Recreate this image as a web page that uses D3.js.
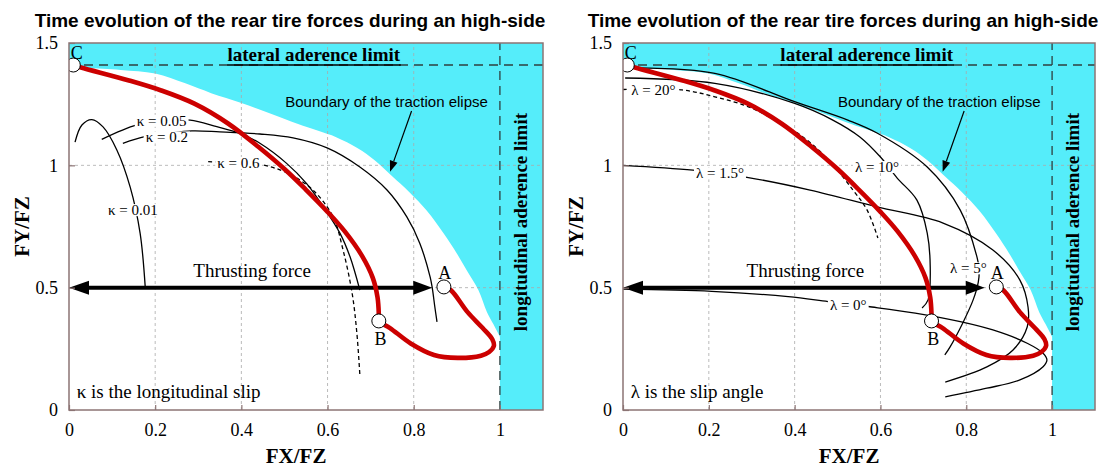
<!DOCTYPE html>
<html><head><meta charset="utf-8">
<script src="https://cdn.jsdelivr.net/npm/d3@7"></script>
<style>body{margin:0;background:#fff} svg{display:block}</style>
</head><body>
<svg id="chart" width="1101" height="468"></svg>
<script>
// ---- data (FX/FZ, FY/FZ) ----
const xTicks = [0, 0.2, 0.4, 0.6, 0.8, 1];
const yTicks = [0, 0.5, 1, 1.5];
const titleText = "Time evolution of the rear tire forces during an high-side";
const lateralLimit = 1.41;
const longitudinalLimit = 1.0;
const thrustLevel = 0.5;
const thrustEnd = 0.843;

// edge of the traction ellipse (cyan region lies outside it)
const tractionBoundary = [[0.0,1.412],[0.04,1.40],[0.12,1.39],[0.20,1.375],[0.27,1.335],[0.33,1.295],[0.40,1.255],[0.47,1.21],[0.53,1.17],[0.58,1.14],[0.62,1.115],[0.67,1.07],[0.71,1.02],[0.75,0.955],[0.79,0.89],[0.83,0.815],[0.87,0.72],[0.90,0.64],[0.925,0.565],[0.95,0.49],[0.97,0.40],[0.985,0.35],[1.0,0.30]];

// rear tire force trajectory A -> B -> C
const trajectory = [[0.870,0.503],[0.886,0.49],[0.925,0.40],[0.960,0.335],[0.982,0.29],[0.986,0.262],[0.975,0.237],[0.956,0.222],[0.902,0.213],[0.847,0.225],[0.793,0.272],[0.745,0.335],[0.719,0.364],[0.719,0.39],[0.716,0.46],[0.705,0.54],[0.68,0.63],[0.64,0.73],[0.60,0.81],[0.55,0.90],[0.50,0.985],[0.44,1.075],[0.37,1.17],[0.291,1.252],[0.214,1.306],[0.137,1.348],[0.028,1.40],[0.01,1.41]];
const pointA = [0.870, 0.503];
const pointB = [0.719, 0.364];
const pointC = [0.010, 1.410];

// constant longitudinal slip curves
const kappa001 = [[0.014,1.095],[0.03,1.165],[0.053,1.187],[0.079,1.157],[0.111,1.063],[0.142,0.911],[0.165,0.723],[0.177,0.5]];
const kappa005 = [[0.076,1.106],[0.157,1.165],[0.215,1.182],[0.281,1.185],[0.343,1.158],[0.397,1.131],[0.443,1.09],[0.505,1.008],[0.551,0.926],[0.59,0.831],[0.629,0.722],[0.652,0.627],[0.675,0.49]];
const kappa02 = [[0.125,1.09],[0.176,1.117],[0.227,1.13],[0.285,1.141],[0.35,1.137],[0.443,1.128],[0.52,1.112],[0.599,1.071],[0.675,0.993],[0.738,0.899],[0.784,0.789],[0.814,0.682],[0.838,0.544],[0.843,0.499],[0.849,0.421],[0.854,0.36]];
const kappa06 = [[0.323,1.015],[0.393,1.01],[0.451,1.001],[0.506,0.969],[0.566,0.899],[0.613,0.789],[0.636,0.654],[0.657,0.478],[0.668,0.315],[0.675,0.143]];

// constant slip angle curves
const lambda0 = [[0,0.494],[0.207,0.485],[0.385,0.463],[0.478,0.443],[0.58,0.421],[0.681,0.396],[0.786,0.361],[0.862,0.327],[0.942,0.273],[0.979,0.232],[0.988,0.204],[0.979,0.177],[0.925,0.123],[0.848,0.089],[0.751,0.054]];
const lambda15 = [[0,1.0],[0.163,0.98],[0.289,0.951],[0.436,0.899],[0.592,0.83],[0.746,0.764],[0.862,0.654],[0.925,0.531],[0.944,0.42],[0.942,0.339],[0.909,0.245],[0.848,0.176],[0.751,0.114]];
const lambda5 = [[0.028,1.398],[0.214,1.376],[0.40,1.26],[0.524,1.185],[0.592,1.132],[0.709,0.993],[0.786,0.817],[0.825,0.625],[0.83,0.575],[0.828,0.523],[0.816,0.45],[0.793,0.36],[0.762,0.257],[0.75,0.225]];
const lambda10 = [[0.005,1.357],[0.214,1.335],[0.40,1.253],[0.489,1.185],[0.552,1.116],[0.60,1.034],[0.639,0.948],[0.685,0.858],[0.709,0.723],[0.716,0.584],[0.711,0.45],[0.697,0.417]];
const lambda20 = [[0,1.31],[0.138,1.308],[0.214,1.28],[0.291,1.24],[0.354,1.185],[0.42,1.115],[0.48,1.02],[0.536,0.899],[0.569,0.817],[0.594,0.703]];

// ---- layout ----
const W = 1101, H = 468, TOP = 43, BOTTOM = 410;
const CYAN = "#55edfa", RED = "#cc0000", FRAME = "#8c7474";
const SERIF = "'Liberation Serif','Times New Roman',serif";
const SANS = "'Liberation Sans',Arial,sans-serif";

const panels = [
  { left: 69, right: 543, note: "\u03BA is the longitudinal slip",
    curves: [
      { data: kappa001, label: "\u03BA = 0.01", at: [0.148, 0.817] },
      { data: kappa005, label: "\u03BA = 0.05", at: [0.215, 1.182] },
      { data: kappa02,  label: "\u03BA = 0.2",  at: [0.227, 1.114] },
      { data: kappa06,  label: "\u03BA = 0.6",  at: [0.393, 1.010], dashed: true }
    ] },
  { left: 623, right: 1095, note: "\u03BB is the slip angle",
    curves: [
      { data: lambda0,  label: "\u03BB = 0\u00B0",   at: [0.525, 0.429] },
      { data: lambda15, label: "\u03BB = 1.5\u00B0", at: [0.226, 0.967] },
      { data: lambda5,  label: "\u03BB = 5\u00B0",   at: [0.805, 0.579] },
      { data: lambda10, label: "\u03BB = 10\u00B0",  at: [0.592, 0.993] },
      { data: lambda20, label: "\u03BB = 20\u00B0",  at: [0.071, 1.308], dashed: true }
    ] }
];

const svg = d3.select("#chart");
svg.append("rect").attr("width", W).attr("height", H).attr("fill", "#fff");

panels.forEach((p, i) => {
  const x = d3.scaleLinear().domain([0, 1.1]).range([p.left, p.right]);
  const y = d3.scaleLinear().domain([0, 1.5]).range([BOTTOM, TOP]);
  const g = svg.append("g");
  const clipId = "clip" + i;
  g.append("clipPath").attr("id", clipId).append("rect")
    .attr("x", p.left).attr("y", TOP).attr("width", p.right - p.left).attr("height", BOTTOM - TOP);
  const plot = g.append("g").attr("clip-path", `url(#${clipId})`);

  const smooth = d3.line().x(d => x(d[0])).y(d => y(d[1])).curve(d3.curveCatmullRom.alpha(0.5));

  // cyan region outside the traction ellipse and beyond the longitudinal limit
  const bPath = smooth(tractionBoundary);
  plot.append("path")
    .attr("d", `M${x(0)},${y(1.5)}L${x(0)},${y(tractionBoundary[0][1])}` + bPath.replace(/^M/, "L") +
      `L${x(longitudinalLimit)},${y(0)}L${x(1.1)},${y(0)}L${x(1.1)},${y(1.5)}Z`)
    .attr("fill", CYAN);

  // grid
  plot.selectAll(".gx").data(xTicks.filter(d => d > 0 && d < 1)).join("line")
    .attr("x1", d => x(d)).attr("x2", d => x(d)).attr("y1", y(0)).attr("y2", y(1.5))
    .attr("stroke", "#aaa").attr("stroke-width", 0.8).attr("stroke-dasharray", "3,3");
  plot.selectAll(".gy").data(yTicks.filter(d => d > 0 && d < 1.5)).join("line")
    .attr("x1", x(0)).attr("x2", x(1.1)).attr("y1", d => y(d)).attr("y2", d => y(d))
    .attr("stroke", "#aaa").attr("stroke-width", 0.8).attr("stroke-dasharray", "3,3");

  // adherence limits
  plot.append("line").attr("x1", x(0)).attr("x2", x(1.1)).attr("y1", y(lateralLimit)).attr("y2", y(lateralLimit))
    .attr("stroke", "#2f3f3f").attr("stroke-width", 1.3).attr("stroke-dasharray", "9,6");
  plot.append("line").attr("x1", x(longitudinalLimit)).attr("x2", x(longitudinalLimit)).attr("y1", y(0)).attr("y2", y(1.5))
    .attr("stroke", "#2f3f3f").attr("stroke-width", 1.3).attr("stroke-dasharray", "9,6");

  // slip curves
  p.curves.forEach(c => {
    plot.append("path").attr("d", smooth(c.data)).attr("fill", "none")
      .attr("stroke", "#000").attr("stroke-width", 1.3)
      .attr("stroke-dasharray", c.dashed ? "4,3" : null);
  });
  p.curves.forEach(c => {
    const t = plot.append("text").attr("x", x(c.at[0])).attr("y", y(c.at[1]))
      .attr("text-anchor", "middle").attr("dominant-baseline", "central")
      .attr("font-family", SERIF).attr("font-size", 15).text(c.label);
    const bb = t.node().getBBox();
    plot.insert("rect", () => t.node())
      .attr("x", bb.x - 2).attr("y", bb.y + 2).attr("width", bb.width + 4).attr("height", bb.height - 4)
      .attr("fill", "#fff");
  });

  // thrusting force arrow
  const ay = y(thrustLevel), ax0 = x(0), ax1 = x(thrustEnd);
  plot.append("line").attr("x1", ax0 + 12).attr("x2", ax1 - 12).attr("y1", ay).attr("y2", ay)
    .attr("stroke", "#000").attr("stroke-width", 4);
  plot.append("path").attr("d", `M${ax0},${ay}L${ax0 + 20},${ay - 7}L${ax0 + 20},${ay + 7}Z`).attr("fill", "#000");
  plot.append("path").attr("d", `M${ax1},${ay}L${ax1 - 19},${ay - 7}L${ax1 - 19},${ay + 7}Z`).attr("fill", "#000");
  plot.append("text").attr("x", x(0.425)).attr("y", y(0.543)).attr("text-anchor", "middle")
    .attr("font-family", SERIF).attr("font-size", 19).text("Thrusting force");

  // trajectory
  plot.append("path").attr("d", smooth(trajectory)).attr("fill", "none")
    .attr("stroke", RED).attr("stroke-width", 4.6).attr("stroke-linejoin", "round");
  plot.selectAll(".pt").data([pointA, pointB, pointC]).join("circle")
    .attr("cx", d => x(d[0])).attr("cy", d => y(d[1])).attr("r", 7)
    .attr("fill", "#fff").attr("stroke", "#000").attr("stroke-width", 1);
  [["A", 0.872, 0.535], ["B", 0.723, 0.266], ["C", 0.018, 1.435]].forEach(([s, u, v]) => {
    plot.append("text").attr("x", x(u)).attr("y", y(v)).attr("text-anchor", "middle")
      .attr("font-family", SERIF).attr("font-size", 18).text(s);
  });

  // annotations
  const lat = plot.append("text").attr("x", x(0.568)).attr("y", y(1.425)).attr("text-anchor", "middle")
    .attr("font-family", SERIF).attr("font-weight", "bold").attr("font-size", 19).text("lateral aderence limit");
  const lb = lat.node().getBBox();
  plot.append("line").attr("x1", lb.x).attr("x2", lb.x + lb.width).attr("y1", y(lateralLimit)).attr("y2", y(lateralLimit))
    .attr("stroke", "#000").attr("stroke-width", 1.3);

  plot.append("text").attr("transform", `translate(${x(1.047)},${y(0.768)}) rotate(-90)`)
    .attr("text-anchor", "middle").attr("dominant-baseline", "central")
    .attr("font-family", SERIF).attr("font-weight", "bold").attr("font-size", 19).text("longitudinal aderence limit");

  plot.append("text").attr("x", x(0.737)).attr("y", y(1.24)).attr("text-anchor", "middle")
    .attr("font-family", SANS).attr("font-size", 15).text("Boundary of the traction elipse");
  const s0 = [x(0.795), y(1.222)], s1 = [x(0.745), y(0.974)];
  const ang = Math.atan2(s1[1] - s0[1], s1[0] - s0[0]);
  const hl = 11, hw = 4;
  const bx = s1[0] - hl * Math.cos(ang), by = s1[1] - hl * Math.sin(ang);
  plot.append("line").attr("x1", s0[0]).attr("y1", s0[1]).attr("x2", bx).attr("y2", by)
    .attr("stroke", "#000").attr("stroke-width", 1.2);
  plot.append("path").attr("d",
    `M${s1[0]},${s1[1]}L${bx + hw * Math.sin(ang)},${by - hw * Math.cos(ang)}L${bx - hw * Math.sin(ang)},${by + hw * Math.cos(ang)}Z`)
    .attr("fill", "#000");

  plot.append("text").attr("x", x(0.018)).attr("y", y(0.05))
    .attr("font-family", SERIF).attr("font-size", 19).text(p.note);

  // frame and axes
  g.append("rect").attr("x", p.left).attr("y", TOP).attr("width", p.right - p.left).attr("height", BOTTOM - TOP)
    .attr("fill", "none").attr("stroke", FRAME).attr("stroke-width", 1.5);

  const xAxis = g.append("g").attr("transform", `translate(0,${BOTTOM})`)
    .call(d3.axisBottom(x).tickValues(xTicks).tickFormat(d => String(d)).tickSizeInner(-5).tickSizeOuter(0).tickPadding(13));
  const yAxis = g.append("g").attr("transform", `translate(${p.left},0)`)
    .call(d3.axisLeft(y).tickValues(yTicks).tickFormat(d => String(d)).tickSizeInner(-6).tickSizeOuter(0).tickPadding(11));
  [xAxis, yAxis].forEach(a => {
    a.select(".domain").remove();
    a.selectAll("line").attr("stroke", FRAME).attr("stroke-width", 1.2);
    a.selectAll("text").attr("font-family", SERIF).attr("font-size", 18).attr("fill", "#000");
  });

  g.append("text").attr("x", x(0.527)).attr("y", 463).attr("text-anchor", "middle")
    .attr("font-family", SERIF).attr("font-weight", "bold").attr("font-size", 21).text("FX/FZ");
  g.append("text").attr("transform", `translate(${p.left - 47},${(TOP + BOTTOM) / 2}) rotate(-90)`)
    .attr("text-anchor", "middle").attr("dominant-baseline", "central")
    .attr("font-family", SERIF).attr("font-weight", "bold").attr("font-size", 21).text("FY/FZ");

  g.append("text").attr("x", (p.left + p.right) / 2 - 16).attr("y", 27).attr("text-anchor", "middle")
    .attr("font-family", SANS).attr("font-weight", "bold").attr("font-size", 19).text(titleText);
});
</script>
</body></html>
